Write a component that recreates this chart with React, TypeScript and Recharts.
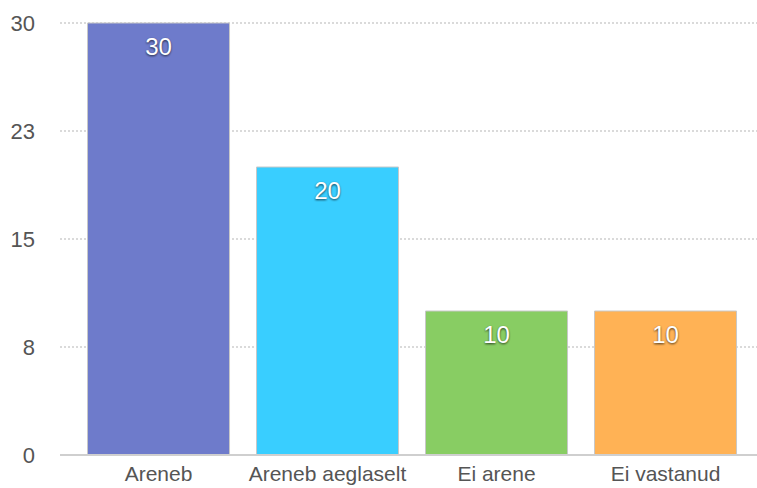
import React from 'react';
import { BarChart, Bar, XAxis, YAxis, CartesianGrid, Cell, LabelList } from 'recharts';

const categories = ['Areneb', 'Areneb aeglaselt', 'Ei arene', 'Ei vastanud'];
const values = [30, 20, 10, 10];
const colors = ['#6E7BCB', '#39CEFF', '#88CD63', '#FFB255'];
const yTicks = [0, 7.5, 15, 22.5, 30];

const data = categories.map((name, i) => ({ name, value: values[i] }));

const FONT = '"Liberation Sans", Arial, Helvetica, sans-serif';

const ShadowLabel = (props: any) => {
  const { x, y, width, value } = props;
  const cx = x + width / 2;
  const cy = y + 23;
  return (
    <g>
      <defs>
        <filter id="lblBlur" x="-20%" y="-20%" width="140%" height="140%">
          <feGaussianBlur stdDeviation="1.1" />
        </filter>
      </defs>
      <text x={cx} y={cy + 1.5} dy="0.355em" textAnchor="middle" fontSize={24} fontFamily={FONT} fill="#000" fillOpacity={0.75} filter="url(#lblBlur)">
        {value}
      </text>
      <text x={cx} y={cy} dy="0.355em" textAnchor="middle" fontSize={24} fontFamily={FONT} fill="#fff">
        {value}
      </text>
    </g>
  );
};

export default function App() {
  return (
    <div style={{ position: 'absolute', left: 0, top: 0, background: '#fff' }}>
      <BarChart width={757} height={488} data={data} margin={{ top: 23, right: 0, bottom: 0, left: 0 }} barCategoryGap="8%">
        <CartesianGrid vertical={false} stroke="#b5b5b5" strokeDasharray="2 2" />
        <XAxis
          dataKey="name"
          height={33}
          tickSize={0}
          tickMargin={11}
          tickLine={false}
          axisLine={{ stroke: '#cfcfcf', strokeWidth: 2 }}
          padding={{ left: 14, right: 7 }}
          tick={{ fill: '#555', fontSize: 21, fontFamily: FONT }}
          interval={0}
        />
        <YAxis
          width={60}
          domain={[0, 30]}
          ticks={yTicks}
          tickFormatter={(v: number) => String(Math.round(v))}
          tickSize={0}
          tickMargin={25}
          tickLine={false}
          axisLine={false}
          tick={{ fill: '#555', fontSize: 22, fontFamily: FONT }}
        />
        <Bar dataKey="value" isAnimationActive={false} stroke="#c8c8c8" strokeWidth={1}>
          {data.map((d, i) => (
            <Cell key={d.name} fill={colors[i]} />
          ))}
          <LabelList dataKey="value" content={ShadowLabel} />
        </Bar>
      </BarChart>
    </div>
  );
}
